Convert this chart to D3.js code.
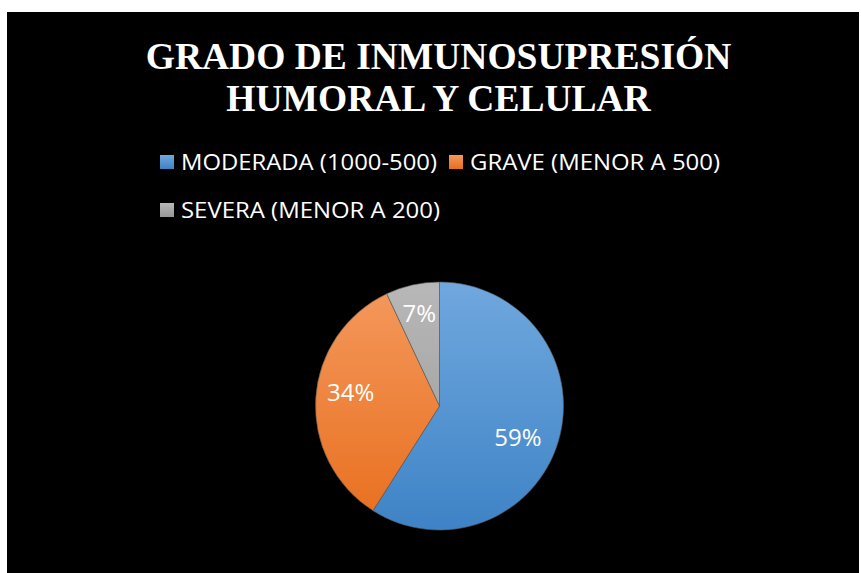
<!DOCTYPE html>
<html><head><meta charset="utf-8">
<script src="https://cdn.jsdelivr.net/npm/d3@7"></script>
<style>html,body{margin:0;padding:0;background:#fff;}svg{display:block;}</style>
</head><body>
<svg id="chart" width="861" height="573"></svg>
<script>
const titleLines = ["GRADO DE INMUNOSUPRESIÓN", "HUMORAL Y CELULAR"];
const categories = ["MODERADA (1000-500)", "GRAVE (MENOR A 500)", "SEVERA (MENOR A 200)"];
const values = [59, 34, 7];
const labels = ["59%", "34%", "7%"];
const colorsTop = ["#70a8de", "#f4995d", "#b8b8b8"];
const colorsBottom = ["#3e83c6", "#e86e1d", "#979797"];

const svg = d3.select("#chart");
svg.append("rect").attr("x", 7).attr("y", 12).attr("width", 852).attr("height", 561).attr("fill", "#000");

const defs = svg.append("defs");
categories.forEach((c, i) => {
  const g = defs.append("linearGradient").attr("id", "grad" + i)
    .attr("gradientUnits", "userSpaceOnUse")
    .attr("x1", 0).attr("y1", -124).attr("x2", 0).attr("y2", 124);
  g.append("stop").attr("offset", "0%").attr("stop-color", colorsTop[i]);
  g.append("stop").attr("offset", "100%").attr("stop-color", colorsBottom[i]);
  const lg = defs.append("linearGradient").attr("id", "lgrad" + i)
    .attr("x1", 0).attr("y1", 0).attr("x2", 0).attr("y2", 1);
  lg.append("stop").attr("offset", "0%").attr("stop-color", colorsTop[i]);
  lg.append("stop").attr("offset", "100%").attr("stop-color", colorsBottom[i]);
});

// Title
svg.append("g").selectAll("text").data(titleLines).join("text")
  .attr("x", 438.5).attr("y", (d, i) => 69 + i * 42)
  .attr("text-anchor", "middle")
  .attr("font-family", "'Liberation Serif', 'Times New Roman', serif")
  .attr("font-weight", "bold").attr("font-size", 37.5).attr("fill", "#fff")
  .text(d => d);

// Legend
const legendFont = "'Open Sans', 'Liberation Sans', sans-serif";
const legendPos = [
  {x: 160, y: 155, tw: 256},
  {x: 449, y: 155, tw: 250},
  {x: 160, y: 203, tw: 259}
];
const lg = svg.append("g").selectAll("g").data(categories).join("g")
  .attr("transform", (d, i) => `translate(${legendPos[i].x},${legendPos[i].y})`);
lg.append("rect").attr("width", 14).attr("height", 14).attr("fill", (d, i) => `url(#lgrad${i})`);
lg.append("text").attr("x", 21).attr("y", 15)
  .attr("font-family", legendFont).attr("font-size", 21.5).attr("fill", "#fff")
  .attr("textLength", (d, i) => legendPos[i].tw).attr("lengthAdjust", "spacingAndGlyphs")
  .text(d => d);

// Pie
const cx = 439.5, cy = 406, r = 124;
const pie = d3.pie().sort(null).value(d => d);
const arcs = pie(values);
const arc = d3.arc().innerRadius(0).outerRadius(r);
const g = svg.append("g").attr("transform", `translate(${cx},${cy})`);
g.selectAll("path").data(arcs).join("path")
  .attr("d", arc)
  .attr("fill", (d, i) => `url(#grad${i})`)
  .attr("stroke", "#5a5a5a").attr("stroke-width", 0.6);

const labelArc = d3.arc().innerRadius(0).outerRadius(176);
const labelOffsets = [[-6, 7], [-1, -8], [-1, -7]];
g.selectAll("text").data(arcs).join("text")
  .attr("transform", (d, i) => {
    const [x, y] = labelArc.centroid(d);
    return `translate(${x + labelOffsets[i][0]},${y + labelOffsets[i][1]})`;
  })
  .attr("text-anchor", "middle").attr("dy", "0.35em")
  .attr("font-family", legendFont).attr("font-size", 24).attr("fill", "#fff")
  .text((d, i) => labels[i]);
</script>
</body></html>
